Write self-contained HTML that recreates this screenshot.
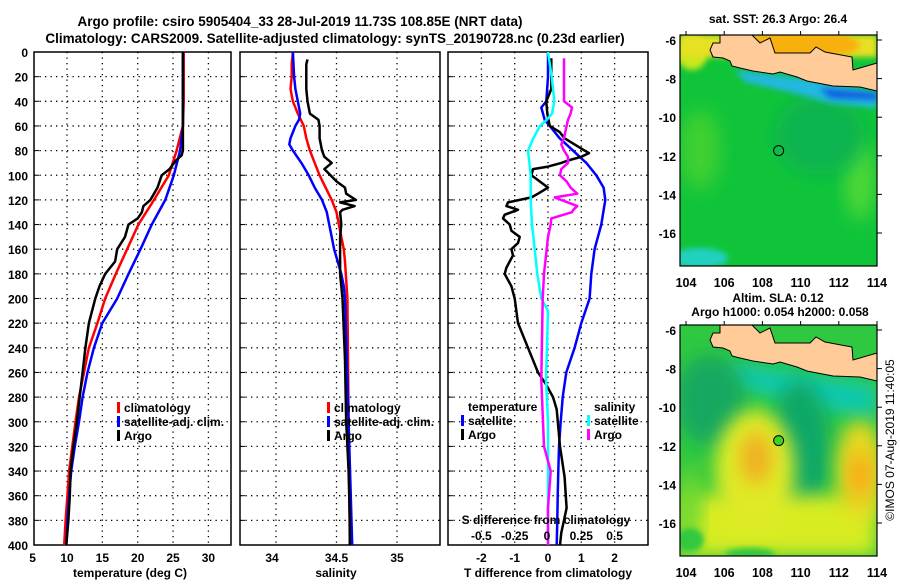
<!DOCTYPE html>
<html><head><meta charset="utf-8"><style>
html,body{margin:0;padding:0;background:#fff;}
svg text{font-family:"Liberation Sans",Arial,sans-serif;font-weight:bold;font-size:12px;fill:#000;}
</style></head><body>
<svg id="c" width="900" height="580" viewBox="0 0 900 580" xmlns="http://www.w3.org/2000/svg">
<defs>
<filter id="bl" x="-30%" y="-30%" width="160%" height="160%"><feGaussianBlur stdDeviation="9"/></filter>
<filter id="bl2" x="-30%" y="-30%" width="160%" height="160%"><feGaussianBlur stdDeviation="3"/></filter>
<clipPath id="m1c"><rect x="680" y="35" width="197" height="231"/></clipPath>
<clipPath id="m2c"><rect x="680" y="325" width="197" height="231"/></clipPath>
</defs>
<text x="300" y="26" text-anchor="middle" style="font-size:13.5px">Argo profile: csiro 5905404_33 28-Jul-2019 11.73S 108.85E (NRT data)</text>
<text x="335" y="43" text-anchor="middle" style="font-size:13.5px">Climatology: CARS2009. Satellite-adjusted climatology: synTS_20190728.nc (0.23d earlier)</text>
<g id="plots"></g>
<g id="maps"></g>
<text transform="translate(894,440) rotate(-90)" text-anchor="middle" style="font-weight:normal;font-size:12px">©IMOS 07-Aug-2019 11:40:05</text>
</svg>
<script>
// ---- data ----
const depthStd = [0,20,40,60,80,100,120,140,160,180,200,220,240,260,280,300,320,340,360,380,400];
const tempClim = [26.5,26.5,26.5,26.4,25.5,24.4,22.3,20.1,18.5,16.9,15.4,14.3,13.1,12.4,11.7,11.2,10.75,10.3,10.05,9.8,9.6];
const tempSat  = [26.4,26.4,26.4,26.4,26.0,25.1,23.9,22.0,20.4,18.7,17.1,15.0,13.8,12.9,12.2,11.7,11.1,10.6,10.3,10.05,9.9];
const argoDepthT = [0,20,40,60,80,84,88,95,100,110,120,125,130,135,140,150,160,170,180,190,200,220,240,260,280,300,320,340,360,380,400];
const tempArgo  = [26.4,26.4,26.4,26.4,26.4,26.2,25.4,24.5,23.4,22.8,21.8,20.8,20.6,20.0,18.7,18.2,17.1,16.8,15.4,14.6,14.0,13.1,12.6,12.2,11.8,11.4,10.9,10.5,10.4,10.2,9.9];

const depthSc = [0,10,20,30,40,50,60,70,80,90,100,110,120,130,140,150,160,170,200,300,400];
const salClim = [34.14,34.13,34.13,34.12,34.14,34.18,34.23,34.25,34.28,34.32,34.36,34.41,34.46,34.50,34.52,34.54,34.56,34.57,34.59,34.60,34.61];
const depthSs = [0,20,30,40,50,55,60,70,75,80,90,100,110,120,130,140,150,160,170,180,190,200,300,400];
const salSat  = [34.14,34.15,34.16,34.18,34.20,34.19,34.16,34.12,34.11,34.14,34.21,34.27,34.32,34.38,34.42,34.44,34.46,34.48,34.51,34.54,34.56,34.57,34.60,34.63];
const depthSa = [6,10,20,30,40,50,55,60,70,80,85,90,95,100,105,110,115,120,122,125,128,130,140,150,170,180,190,200,250,300,340,380,400];
const salArgo = [34.26,34.25,34.25,34.25,34.26,34.28,34.35,34.36,34.36,34.38,34.40,34.46,34.40,34.45,34.50,34.57,34.58,34.66,34.53,34.65,34.55,34.53,34.54,34.53,34.53,34.53,34.54,34.55,34.57,34.58,34.60,34.61,34.61];

const depthDTs = [0,20,40,45,55,60,70,80,90,100,110,120,140,160,180,200,220,240,260,280,300,320,340,360,380,400];
const dTsat    = [0,0,-0.05,-0.2,-0.1,0.05,0.35,0.75,1.15,1.45,1.67,1.72,1.6,1.4,1.3,1.25,1.0,0.8,0.55,0.44,0.38,0.33,0.31,0.29,0.28,0.26];
const depthDTa = [5,30,40,50,60,65,70,75,80,82,85,88,90,93,95,100,105,110,115,118,120,122,125,128,132,135,140,145,150,155,160,165,170,175,180,185,190,200,220,240,260,270,280,290,320,345,370,390,400];
const dTargo   = [0.1,0.1,-0.05,-0.02,0.05,0.35,0.5,0.8,1.1,1.23,1.0,0.6,0.4,0.0,-0.45,-0.5,-0.25,0,-0.3,-0.5,-0.85,-1.2,-1.25,-0.9,-1.3,-1.35,-1.15,-1.1,-0.85,-0.9,-1.1,-1.05,-1.15,-1.25,-1.3,-1.2,-1.1,-1.0,-0.9,-0.6,-0.3,-0.05,0.15,0.26,0.36,0.5,0.56,0.4,0.36];
const depthDSs = [0,20,40,50,55,60,70,80,90,100,120,140,160,180,200,210,266,300,400];
const dSsat    = [0,0.028,0.047,0.03,-0.01,-0.06,-0.11,-0.15,-0.14,-0.13,-0.13,-0.12,-0.1,-0.08,-0.05,0,-0.015,0,0];
const depthDSa = [5,40,45,50,55,60,70,75,80,85,90,95,100,105,110,115,118,120,125,128,130,135,140,150,160,180,200,266,320,340,370,400];
const dSargo   = [0.12,0.12,0.18,0.17,0.15,0.14,0.12,0.10,0.12,0.15,0.15,0.1,0.09,0.14,0.17,0.22,0.05,0.1,0.22,0.19,0.18,0.025,0.02,0.0,-0.01,-0.03,-0.04,-0.05,-0.03,0.02,0.0,0.0];

const depthTicks = [0,20,40,60,80,100,120,140,160,180,200,220,240,260,280,300,320,340,360,380,400];
const tTicks = [5,10,15,20,25,30];
const sTicks = [34,34.5,35];
const dtTicks = [-2,-1,0,1,2];
const dsTickLabels = ['-0.5','-0.25','0','0.25','0.5'];
const lonTicks = [104,106,108,110,112,114];
const latTicks = [-6,-8,-10,-12,-14,-16];
const argoLon = 108.85, argoLat = -11.73;

// ---- helpers ----
const NS='http://www.w3.org/2000/svg';
const plots=document.getElementById('plots');
const maps=document.getElementById('maps');
function mk(tag,attrs,parent){const e=document.createElementNS(NS,tag);for(const k in attrs)e.setAttribute(k,attrs[k]);(parent||plots).appendChild(e);return e;}
const Y=d=>52+d*1.2325;
const XT=t=>67+(t-10)*7.07;
const XS=s=>276+(s-34)*121;
const XDT=v=>548+v*33.3;
const XDS=v=>548+v*133.2;
const BOT=545;

function panel(x0,x1,xticks,xfn,name){
  const g=mk('g',{});
  
  
  for(const d of depthTicks){ if(d>0&&d<400){const l=mk('line',{x1:x0,x2:x1,y1:Y(d),y2:Y(d),stroke:'#000','stroke-width':1.3,'stroke-dasharray':'1.3,4.2'},g);
    
    }
    const tk=mk('line',{x1:x0,x2:x0+5,y1:Y(d),y2:Y(d),stroke:'#000','stroke-width':1},g);
    
    }
  for(const v of xticks){const x=xfn(v); if(x>x0+1&&x<x1-1){const l=mk('line',{x1:x,x2:x,y1:52,y2:BOT,stroke:'#000','stroke-width':1.3,'stroke-dasharray':'1.3,4.2'},g);
    
    }}
  const r=mk('rect',{x:x0,y:52,width:x1-x0,height:BOT-52,fill:'none',stroke:'#000','stroke-width':1.5},g);
  
  
  return g;
}
function curve(ds,vs,xfn,color,w,name,parent){
  let p='';for(let i=0;i<ds.length;i++){p+=(i?'L':'M')+xfn(vs[i]).toFixed(1)+','+Y(ds[i]).toFixed(1);}
  const e=mk('path',{d:p,fill:'none',stroke:color,'stroke-width':w,'stroke-linejoin':'round'},parent);
  
  
  return e;
}
function txt(x,y,s,anchor,name,parent,style){
  const e=mk('text',{x:x,y:y,'text-anchor':anchor||'start'},parent);
  if(style)e.setAttribute('style',style);
  e.textContent=s;
  
  
  return e;
}
function legendBar(x,y,color,parent){
  const e=mk('rect',{x:x,y:y-10,width:3,height:11,fill:color},parent);
  
  
}

// Panel 1 temperature
const g1=panel(34,231,tTicks,XT,'temperature-panel');
for(const d of depthTicks) txt(28,Y(d)+5,String(d),'end','depth-tick-label',g1);
for(const t of tTicks) txt(XT(t)-(t===5?-1:0),562,String(t),'middle','temperature-tick-label',g1);
txt(130,577,'temperature (deg C)','middle','temperature-axis-title',g1);
curve(depthStd,tempClim,XT,'#ff0000',2.5,'temperature-climatology-line',g1);
curve(depthStd,tempSat,XT,'#0000ff',2.5,'temperature-satellite-line',g1);
curve(argoDepthT,tempArgo,XT,'#000000',2.5,'temperature-argo-line',g1);
legendBar(117,412,'#ff0000',g1);txt(124,412,'climatology','start','legend-climatology',g1);
legendBar(117,426,'#0000ff',g1);txt(124,426,'satellite-adj. clim.','start','legend-satellite',g1);
legendBar(117,440,'#000000',g1);txt(124,440,'Argo','start','legend-argo',g1);

// Panel 2 salinity
const g2=panel(240,440,sTicks,XS,'salinity-panel');
for(const s of sTicks) txt(XS(s)-(s===34?4:0),562,String(s),'middle','salinity-tick-label',g2);
txt(336,577,'salinity','middle','salinity-axis-title',g2);
curve(depthSc,salClim,XS,'#ff0000',2.5,'salinity-climatology-line',g2);
curve(depthSs,salSat,XS,'#0000ff',2.5,'salinity-satellite-line',g2);
curve(depthSa,salArgo,XS,'#000000',2.5,'salinity-argo-line',g2);
legendBar(327,412,'#ff0000',g2);txt(334,412,'climatology','start','legend-climatology',g2);
legendBar(327,426,'#0000ff',g2);txt(334,426,'satellite-adj. clim.','start','legend-satellite',g2);
legendBar(327,440,'#000000',g2);txt(334,440,'Argo','start','legend-argo',g2);

// Panel 3 differences
const g3=panel(448,648,dtTicks,XDT,'difference-panel');
for(const v of dtTicks) txt(XDT(v),562,String(v),'middle','t-diff-tick-label',g3);
txt(548,577,'T difference from climatology','middle','t-diff-axis-title',g3);
curve(depthDTs,dTsat,XDT,'#0000ff',2.5,'t-diff-satellite-line',g3);
curve(depthDTa,dTargo,XDT,'#000000',2.5,'t-diff-argo-line',g3);
curve(depthDSs,dSsat,XDS,'#00ffff',2.5,'s-diff-satellite-line',g3);
curve(depthDSa,dSargo,XDS,'#ff00ff',2.5,'s-diff-argo-line',g3);
txt(546,524,'S difference from climatology','middle','s-diff-axis-title',g3);
dsTickLabels.forEach((s,i)=>txt(XDS(parseFloat(s))+(s==='0'?-1:0),540,s,'middle','s-diff-tick-label',g3));
txt(468,411,'temperature','start','legend-temperature-heading',g3);
legendBar(461,425,'#0000ff',g3);txt(468,425,'satellite','start','legend-t-satellite',g3);
legendBar(461,439,'#000000',g3);txt(468,439,'Argo','start','legend-t-argo',g3);
txt(594,411,'salinity','start','legend-salinity-heading',g3);
legendBar(587,425,'#00ffff',g3);txt(594,425,'satellite','start','legend-s-satellite',g3);
legendBar(587,439,'#ff00ff',g3);txt(594,439,'Argo','start','legend-s-argo',g3);

// ---- maps ----
const LX=lon=>686+(lon-104)*19.1;
function mapPanel(top,kind){
  const LY=lat=>top+5+(-6-lat)*19.3;
  const g=mk('g',{},maps);
  
  
  const f=mk('g',{'clip-path':kind==='sst'?'url(#m1c)':'url(#m2c)'},g);
  const o=top-35;
  const R=(x,y,w,h,c,filt)=>{const e=mk('rect',{x:x,y:y+o,width:w,height:h,fill:c},f);if(filt)e.setAttribute('filter',filt);return e;};
  const E=(cx,cy,rx,ry,c,filt)=>{const e=mk('ellipse',{cx:cx,cy:cy+o,rx:rx,ry:ry,fill:c},f);if(filt)e.setAttribute('filter',filt);return e;};
  if(kind==='sst'){
    R(680,35,197,231,'#10c43a');
    E(692,52,16,18,'#c8e81a','url(#bl2)');
    R(680,35,197,22,'#e8e020','url(#bl2)');
    E(800,45,60,14,'#f8b010','url(#bl2)');
    E(700,150,20,40,'#40d030','url(#bl)');
    E(860,180,15,40,'#50d838','url(#bl)');
    E(700,258,28,10,'#20d0c0','url(#bl2)');
    E(820,135,45,40,'#10b450','url(#bl)');
    mk('path',{d:`M735,${70+o} L800,${78+o} L877,${92+o} L877,${108+o} L830,${103+o} L790,${92+o} L745,${82+o}Z`,fill:'#20b8e0',filter:'url(#bl2)'},f);
    mk('path',{d:`M820,${88+o} L877,${93+o} L877,${100+o} L830,${98+o}Z`,fill:'#1060e0',filter:'url(#bl2)'},f);
  } else {
    R(680,35,197,231,'#30c840');
    mk('path',{d:`M730,${72+o} L877,${95+o} L877,${130+o} L800,${115+o} L730,${95+o}Z`,fill:'#10c8b0',filter:'url(#bl)'},f);
    E(710,110,35,45,'#18a860','url(#bl)');
    E(800,160,30,70,'#10a868','url(#bl)');
    R(680,205,197,61,'#d8ec20','url(#bl)');
    E(755,180,40,60,'#e0ea28','url(#bl)');
    E(756,168,16,26,'#f0b020','url(#bl)');
    E(860,180,24,50,'#e8d820','url(#bl)');
    E(860,185,11,22,'#f8a818','url(#bl)');
    E(690,215,12,40,'#70d830','url(#bl)');
    E(690,250,14,12,'#30c840','url(#bl2)');
    E(750,264,25,6,'#30c840','url(#bl2)');
  }
  const land=mk('path',{d:`M720,${35+o} L752,${35+o} L760,${43+o} L770,${38+o} L775,${53+o} L810,${53+o} L816,${47+o} L825,${52+o} L852,${57+o} L853,${70+o} L877,${63+o} L877,${91+o} L860,${87+o} L833,${86+o} L807,${81+o} L797,${77+o} L780,${72+o} L773,${74+o} L753,${71+o} L740,${68+o} L732,${66+o} L730,${61+o} L723,${58+o} L713,${57+o} L710,${50+o} L713,${43+o} L720,${43+o}Z`,fill:'#ffcc99',stroke:'#000','stroke-width':1},g);
  
  
  const fr=mk('rect',{x:680,y:top,width:197,height:231,fill:'none',stroke:'#000','stroke-width':1.2},g);
  
  
  const mk2=mk('circle',{cx:LX(argoLon),cy:LY(argoLat),r:5,fill:kind==='sst'?'none':'#40d020',stroke:'#000','stroke-width':1},g);
  
  
  for(const lat of latTicks){
    txt(676,LY(lat)+5,String(lat),'end','latitude-tick-label',g);
    mk('line',{x1:877,x2:882,y1:LY(lat),y2:LY(lat),stroke:'#000'},g);
  }
  for(const lon of lonTicks){
    txt(LX(lon),top+252,String(lon),'middle','longitude-tick-label',g,'font-size:12.5px');
    mk('line',{x1:LX(lon),x2:LX(lon),y1:top,y2:top-4,stroke:'#000'},g);
  }
}
mapPanel(35,'sst');
mapPanel(325,'sla');
txt(778,23,'sat. SST: 26.3 Argo: 26.4','middle','sst-map-title',maps);
txt(778,302,'Altim. SLA: 0.12','middle','sla-map-title',maps);
txt(780,316,'Argo h1000: 0.054 h2000: 0.058','middle','sla-map-subtitle',maps);
</script>
</body></html>
